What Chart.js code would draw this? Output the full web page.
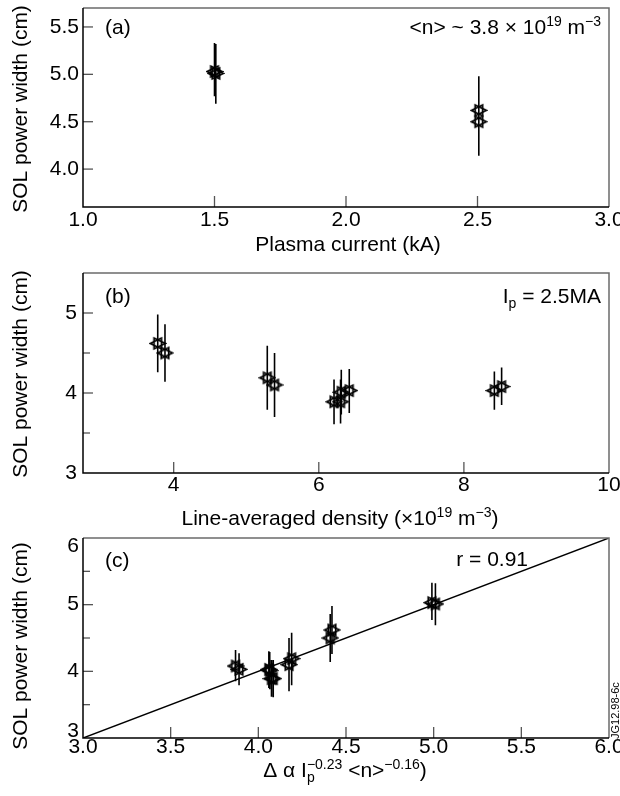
<!DOCTYPE html>
<html>
<head>
<meta charset="utf-8">
<script src="https://cdn.jsdelivr.net/npm/chart.js@4.4.1/dist/chart.umd.min.js"></script>
<style>
  html, body { margin: 0; padding: 0; background: #fff; }
  body { width: 620px; height: 796px; position: relative; overflow: hidden; }
  canvas { position: absolute; left: 0; }
</style>
</head>
<body>
<canvas id="chartA" width="620" height="265" style="top:0"></canvas>
<canvas id="chartB" width="620" height="265" style="top:265px"></canvas>
<canvas id="chartC" width="620" height="266" style="top:530px"></canvas>
<script>
// (a) SOL power width vs plasma current
var currentA = [1.50, 1.505, 2.505, 2.505];
var widthA   = [5.03, 5.01, 4.62, 4.50];
var loA      = [4.77, 4.69, 4.26, 4.14];
var hiA      = [5.33, 5.32, 4.98, 4.86];
var xTicksA  = [1.0, 1.5, 2.0, 2.5, 3.0];
var yTicksA  = [4.0, 4.5, 5.0, 5.5];

// (b) SOL power width vs line-averaged density, Ip = 2.5MA
var densityB = [3.78, 3.88, 5.29, 5.39, 6.21, 6.30, 6.31, 6.42, 8.42, 8.52];
var widthB   = [4.62, 4.50, 4.19, 4.10, 3.89, 3.89, 4.01, 4.03, 4.03, 4.08];
var loB      = [4.26, 4.14, 3.79, 3.70, 3.61, 3.62, 3.73, 3.75, 3.79, 3.85];
var hiB      = [4.98, 4.86, 4.59, 4.50, 4.17, 4.17, 4.29, 4.30, 4.27, 4.32];
var xTicksB  = [4, 6, 8, 10];
var yTicksB  = [3, 3.5, 4, 4.5, 5];

// (c) SOL power width vs scaling
var scalingC = [3.87, 3.89, 4.06, 4.065, 4.075, 4.085, 4.175, 4.19, 4.41, 4.42, 4.99, 5.01];
var widthC   = [4.08, 4.03, 4.03, 4.01, 3.89, 3.89, 4.10, 4.19, 4.50, 4.62, 5.03, 5.01];
var loC      = [3.85, 3.79, 3.75, 3.73, 3.62, 3.61, 3.70, 3.79, 4.14, 4.26, 4.77, 4.69];
var hiC      = [4.32, 4.27, 4.30, 4.29, 4.17, 4.17, 4.50, 4.58, 4.86, 4.98, 5.33, 5.32];
var fitX     = [3, 6];
var fitY     = [3, 6];
var xTicksC  = [3.0, 3.5, 4.0, 4.5, 5.0, 5.5, 6.0];
var yTicksC  = [3, 3.5, 4, 4.5, 5, 5.5, 6];

var FONT = '"Liberation Sans", Arial, Helvetica, sans-serif';
var FS = 21;

// hexagram marker, outline only
function hexagram() {
  var c = document.createElement('canvas');
  c.width = 18; c.height = 15;
  var g = c.getContext('2d');
  var cx = 9, cy = 7.5, r = 7.4, k = 0.85;
  g.strokeStyle = '#000';
  g.lineWidth = 1.7;
  [0, Math.PI].forEach(function (a0) {
    g.beginPath();
    for (var i = 0; i < 3; i++) {
      var a = a0 + i * 2 * Math.PI / 3;
      var px = cx + r * Math.cos(a), py = cy + r * k * Math.sin(a);
      if (i === 0) g.moveTo(px, py); else g.lineTo(px, py);
    }
    g.closePath();
    g.stroke();
  });
  return c;
}
var marker = hexagram();

function points(xs, ys) {
  return xs.map(function (x, i) { return {x: x, y: ys[i]}; });
}
function errorBars(xs, lo, hi) {
  var pts = [];
  xs.forEach(function (x, i) {
    pts.push({x: x, y: lo[i]}, {x: x, y: hi[i]}, {x: x, y: null});
  });
  return pts;
}

function fontFor(r) {
  return (r.s ? 14 : FS) + 'px ' + FONT;
}
function drawRuns(ctx, runs, x, y, align) {
  var widths = runs.map(function (r) {
    ctx.font = fontFor(r);
    return r.back ? 0 : ctx.measureText(r.t).width;
  });
  var total = widths.reduce(function (a, b) { return a + b; }, 0);
  var sx = align === 'right' ? x - total : align === 'center' ? x - total / 2 : x;
  ctx.textAlign = 'left';
  ctx.textBaseline = 'alphabetic';
  ctx.fillStyle = '#000';
  runs.forEach(function (r, i) {
    ctx.font = fontFor(r);
    ctx.fillText(r.t, sx, y + (r.s === 'sup' ? -8 : r.s === 'sub' ? 5 : 0));
    sx += widths[i];
  });
}

var framePlugin = {
  id: 'frame',
  afterDraw: function (chart, args, opts) {
    var ctx = chart.ctx, a = chart.chartArea;
    var xs = chart.scales.x, ys = chart.scales.y;
    var yLabel = ys.options.ticks.callback;
    ctx.save();
    // inside tick marks
    ctx.strokeStyle = '#555';
    ctx.lineWidth = 1.3;
    xs.ticks.forEach(function (t) {
      var px = xs.getPixelForValue(t.value);
      if (px < a.left + 2 || px > a.right - 2) return;
      ctx.beginPath(); ctx.moveTo(px, a.bottom); ctx.lineTo(px, a.bottom - 11); ctx.stroke();
    });
    ys.ticks.forEach(function (t) {
      var py = ys.getPixelForValue(t.value);
      if (py < a.top + 2 || py > a.bottom - 2) return;
      var len = yLabel(t.value) === '' ? 7 : 10;
      ctx.beginPath(); ctx.moveTo(a.left, py); ctx.lineTo(a.left + len, py); ctx.stroke();
    });
    // y labels kept inside the frame (panel c)
    if (opts.clampY) {
      ctx.font = FS + 'px ' + FONT;
      ctx.fillStyle = '#000';
      ctx.textAlign = 'right';
      ctx.textBaseline = 'middle';
      ys.ticks.forEach(function (t) {
        var py = ys.getPixelForValue(t.value);
        py = Math.min(Math.max(py, a.top + opts.clampY[0]), a.bottom - opts.clampY[1]);
        ctx.fillText(yLabel(t.value), a.left - 4, py);
      });
    }
    // box
    ctx.lineWidth = 1.5;
    ctx.strokeStyle = '#6b6b6b';
    ctx.beginPath();
    ctx.moveTo(a.left, a.top); ctx.lineTo(a.right, a.top); ctx.lineTo(a.right, a.bottom);
    ctx.stroke();
    ctx.strokeStyle = '#000';
    ctx.beginPath();
    ctx.moveTo(a.left, a.top); ctx.lineTo(a.left, a.bottom); ctx.lineTo(a.right, a.bottom);
    ctx.stroke();
    // y title
    ctx.save();
    ctx.translate(21, (a.top + a.bottom) / 2 + opts.yTitleShift);
    ctx.rotate(-Math.PI / 2);
    ctx.font = FS + 'px ' + FONT;
    ctx.fillStyle = '#000';
    ctx.textAlign = 'center';
    ctx.textBaseline = 'middle';
    ctx.fillText('SOL power width (cm)', 0, 0);
    ctx.restore();
    // annotations and x title
    opts.texts.forEach(function (tx) {
      var x = tx.from === 'left' ? a.left + tx.dx : tx.from === 'right' ? a.right - tx.dx : (a.left + a.right) / 2 + tx.dx;
      var y = tx.fromBottom ? a.bottom + tx.dy : a.top + tx.dy;
      drawRuns(ctx, tx.runs, x, y, tx.align);
    });
    if (opts.stamp) {
      ctx.save();
      ctx.translate(619, a.bottom + 1);
      ctx.rotate(-Math.PI / 2);
      ctx.font = '11px ' + FONT;
      ctx.textAlign = 'left';
      ctx.textBaseline = 'alphabetic';
      ctx.fillText(opts.stamp, 0, 0);
      ctx.restore();
    }
    ctx.restore();
  }
};

function makeChart(id, cfg) {
  var tickFont = {family: FONT, size: FS, lineHeight: 1.2};
  return new Chart(document.getElementById(id), {
    type: 'scatter',
    data: {datasets: cfg.datasets},
    options: {
      responsive: false,
      animation: false,
      events: [],
      layout: {padding: {top: cfg.padTop, right: 11, left: 0, bottom: 0}},
      plugins: {
        legend: {display: false},
        tooltip: {enabled: false},
        frame: cfg.frame
      },
      scales: {
        x: {
          type: 'linear', min: cfg.xMin, max: cfg.xMax,
          grid: {display: false, drawTicks: false}, border: {display: false},
          ticks: {font: tickFont, color: '#000', padding: cfg.xPad, maxRotation: 0, autoSkip: false, callback: cfg.xLabel},
          afterBuildTicks: function (s) { s.ticks = cfg.xTicks.map(function (v) { return {value: v}; }); },
          afterFit: function (s) { s.height = cfg.xH; s.paddingLeft = 0; s.paddingRight = 0; }
        },
        y: {
          type: 'linear', min: cfg.yMin, max: cfg.yMax,
          grid: {display: false, drawTicks: false}, border: {display: false},
          ticks: {display: !cfg.frame.clampY, font: tickFont, color: '#000', padding: cfg.yPad, autoSkip: false, callback: cfg.yLabel},
          afterBuildTicks: function (s) { s.ticks = cfg.yTicks.map(function (v) { return {value: v}; }); },
          afterFit: function (s) { s.width = 83; s.paddingTop = 0; s.paddingBottom = 0; }
        }
      }
    },
    plugins: [framePlugin]
  });
}

function markerSet(xs, ys) {
  return {data: points(xs, ys), pointStyle: marker, pointRadius: 7, showLine: false, order: 0};
}
function barSet(xs, lo, hi) {
  return {data: errorBars(xs, lo, hi), showLine: true, spanGaps: false, borderColor: '#000', borderWidth: 1.6, pointRadius: 0, order: 1};
}
var oneDec = function (v) { return Number(v).toFixed(1); };
var intOnly = function (v) { return Number.isInteger(v) ? String(v) : ''; };

makeChart('chartA', {
  datasets: [barSet(currentA, loA, hiA), markerSet(currentA, widthA)],
  padTop: 7, xH: 58, xPad: 1, yPad: 4,
  xMin: 1, xMax: 3, yMin: 3.6, yMax: 5.7,
  xTicks: xTicksA, yTicks: yTicksA, xLabel: oneDec, yLabel: oneDec,
  frame: {
    yTitleShift: 1.5,
    texts: [
      {from: 'left', dx: 22, dy: 26, align: 'left', runs: [{t: '(a)'}]},
      {from: 'right', dx: 8, dy: 26, align: 'right', runs: [{t: '<n> ~ 3.8 \u00d7 10'}, {t: '19', s: 'sup'}, {t: ' m'}, {t: '\u22123', s: 'sup'}]},
      {from: 'center', dx: 2, dy: 43.5, fromBottom: true, align: 'center', runs: [{t: 'Plasma current (kA)'}]}
    ]
  }
});

makeChart('chartB', {
  datasets: [barSet(densityB, loB, hiB), markerSet(densityB, widthB)],
  padTop: 7, xH: 57, xPad: 0, yPad: 6,
  xMin: 2.75, xMax: 10, yMin: 3, yMax: 5.5,
  xTicks: xTicksB, yTicks: yTicksB, xLabel: intOnly, yLabel: intOnly,
  frame: {
    yTitleShift: 1,
    texts: [
      {from: 'left', dx: 22, dy: 29.5, align: 'left', runs: [{t: '(b)'}]},
      {from: 'right', dx: 8, dy: 29.5, align: 'right', runs: [{t: 'I'}, {t: 'p', s: 'sub'}, {t: ' = 2.5MA'}]},
      {from: 'center', dx: -6, dy: 51.5, fromBottom: true, align: 'center', runs: [{t: 'Line-averaged density (\u00d710'}, {t: '19', s: 'sup'}, {t: ' m'}, {t: '\u22123', s: 'sup'}, {t: ')'}]}
    ]
  }
});

makeChart('chartC', {
  datasets: [
    {data: points(fitX, fitY), showLine: true, borderColor: '#000', borderWidth: 1.5, pointRadius: 0, order: 2},
    barSet(scalingC, loC, hiC),
    markerSet(scalingC, widthC)
  ],
  padTop: 8, xH: 58, xPad: -3.5, yPad: 4,
  xMin: 3, xMax: 6, yMin: 3, yMax: 6,
  xTicks: xTicksC, yTicks: yTicksC, xLabel: oneDec, yLabel: intOnly,
  frame: {
    yTitleShift: 8,
    clampY: [8, 7],
    stamp: 'JG12.98-6c',
    texts: [
      {from: 'left', dx: 22, dy: 29, align: 'left', runs: [{t: '(c)'}]},
      {from: 'right', dx: 81, dy: 28, align: 'right', runs: [{t: 'r = 0.91'}]},
      {from: 'center', dx: -1, dy: 38.5, fromBottom: true, align: 'center', runs: [{t: '\u0394 \u03b1 I'}, {t: 'p', s: 'sub', back: true}, {t: '\u22120.23', s: 'sup'}, {t: ' <n>'}, {t: '\u22120.16', s: 'sup'}, {t: ')'}]}
    ]
  }
});
</script>
</body>
</html>
